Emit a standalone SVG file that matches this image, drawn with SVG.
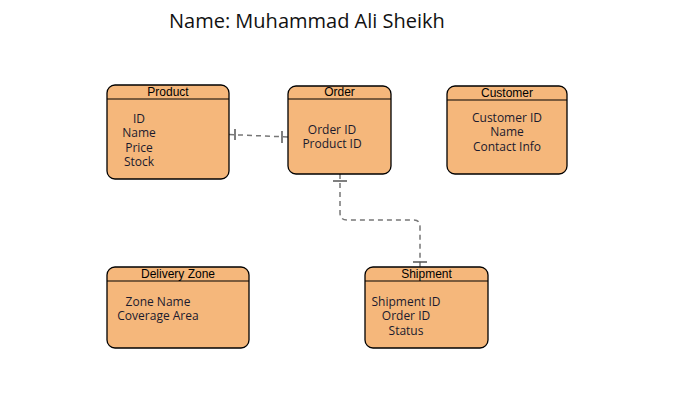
<svg xmlns="http://www.w3.org/2000/svg" width="690" height="403" viewBox="0 0 690 403">
<style>
.box{fill:#F5B77B;stroke:#000;stroke-width:1.3}
.hl{stroke:#000;stroke-width:1.2}
.hd{font-family:"Liberation Sans",Arial,sans-serif;font-size:12px;fill:#000;text-anchor:middle}
.bd{font-family:"Open Sans","Noto Sans",sans-serif;font-size:12px;fill:#1a1a2e;text-anchor:middle}
.ln{fill:none;stroke:#777;stroke-width:1.5;stroke-dasharray:5 4}
.tk{stroke:#555;stroke-width:1.5}
</style>
<rect width="690" height="403" fill="#fff"/>
<text x="169" y="28" font-family="'Open Sans','Noto Sans',sans-serif" font-size="20" fill="#111">Name: Muhammad Ali Sheikh</text>
<g id="connectors">
<path class="ln" d="M229 134.5 L288 137"/>
<line class="tk" x1="235" y1="129" x2="235" y2="140"/>
<line class="tk" x1="282" y1="131" x2="282" y2="143"/>
<path class="ln" d="M340 174 L340 213 Q340 220 347 220 L414 220 Q420 220 420 227 L420 267"/>
<line class="tk" x1="333" y1="181" x2="347" y2="181"/>
<line class="tk" x1="413" y1="262" x2="427" y2="262"/>
</g>
<g id="product">
<rect class="box" x="107" y="85" width="122" height="94" rx="8"/>
<line class="hl" x1="107" y1="99" x2="229" y2="99"/>
<text class="hd" x="168" y="96">Product</text>
<text class="bd" x="139" y="123">ID</text>
<text class="bd" x="139" y="137">Name</text>
<text class="bd" x="139" y="152">Price</text>
<text class="bd" x="139" y="166">Stock</text>
</g>
<g id="order">
<rect class="box" x="288" y="86" width="103" height="88" rx="8"/>
<line class="hl" x1="288" y1="99" x2="391" y2="99"/>
<text class="hd" x="339.5" y="96">Order</text>
<text class="bd" x="332" y="134">Order ID</text>
<text class="bd" x="332" y="148">Product ID</text>
</g>
<g id="customer">
<rect class="box" x="447" y="86" width="120" height="88" rx="8"/>
<line class="hl" x1="447" y1="100" x2="567" y2="100"/>
<text class="hd" x="507" y="97">Customer</text>
<text class="bd" x="507" y="122">Customer ID</text>
<text class="bd" x="507" y="136">Name</text>
<text class="bd" x="507" y="151">Contact Info</text>
</g>
<g id="delivery-zone">
<rect class="box" x="107" y="267" width="142" height="81" rx="8"/>
<line class="hl" x1="107" y1="281" x2="249" y2="281"/>
<text class="hd" x="178" y="278">Delivery Zone</text>
<text class="bd" x="158" y="306">Zone Name</text>
<text class="bd" x="158" y="320">Coverage Area</text>
</g>
<g id="shipment">
<rect class="box" x="365" y="267" width="123" height="81" rx="8"/>
<line class="hl" x1="365" y1="281" x2="488" y2="281"/>
<text class="hd" x="426.5" y="278">Shipment</text>
<text class="bd" x="406" y="306">Shipment ID</text>
<text class="bd" x="406" y="320">Order ID</text>
<text class="bd" x="406" y="335">Status</text>
</g>
</svg>
